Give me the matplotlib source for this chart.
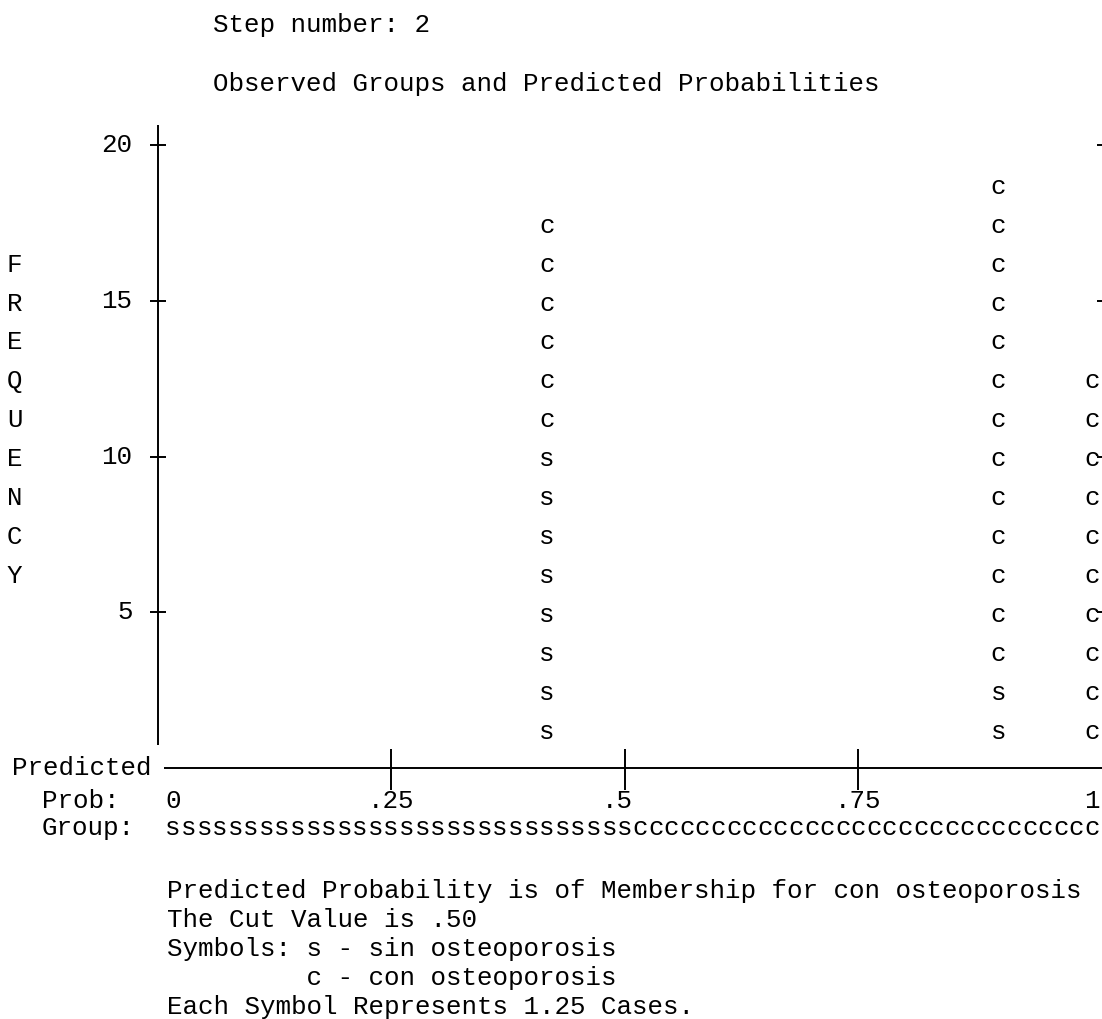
import matplotlib
matplotlib.use("Agg")
import matplotlib.pyplot as plt

plt.rcParams['font.family'] = ['Liberation Mono', 'DejaVu Sans Mono']

# data
n_cols = 60                      # text columns across the probability axis
case_per_symbol = 1.25
col_prob = [25 / 60, 54 / 60, 60 / 60]   # predicted probability of each stack
s_rows = [8, 2, 0]               # symbols "s" (sin osteoporosis), from the bottom
c_rows = [6, 13, 10]             # symbols "c" (con osteoporosis), on top
y_ticks = [5, 10, 15, 20]
x_ticks = [0.25, 0.5, 0.75]
x_labels = ['0', '.25', '.5', '.75', '1']
x_label_cols = [1, 15, 29.5, 45, 60]
group_row = 's' * 30 + 'c' * 30
ylabel = 'FREQUENCY'
notes = ['Predicted Probability is of Membership for con osteoporosis',
         'The Cut Value is .50',
         'Symbols: s - sin osteoporosis',
         '         c - con osteoporosis',
         'Each Symbol Represents 1.25 Cases.']

W, H = 1102, 1019
x0, x1 = 157.5, 1092.0           # pixel of prob 0 and 1
y0, ytop = 768.0, 125.0
px_per_freq = 31.13
fs = 18.6

fig = plt.figure(figsize=(W / 100, H / 100), dpi=100)
ax = fig.add_axes([x0 / W, (H - y0) / H, (W - x0) / W, (y0 - ytop) / H])
ax.set_xlim(0, (W - x0) / (x1 - x0))
ax.set_ylim(0, (y0 - ytop) / px_per_freq)
ax.axis('off')

dx = 1 / (x1 - x0)               # one pixel in data units
dy = 1 / px_per_freq
lk = dict(color='black', lw=1.4, solid_capstyle='butt', clip_on=False)

# axes lines and ticks
ax.plot([0, 0], [23 * dy, ax.get_ylim()[1]], **lk)
ax.plot([6 * dx, ax.get_xlim()[1]], [0, 0], **lk)
for v in y_ticks:
    ax.plot([-8 * dx, 8 * dx], [v, v], **lk)
    ax.plot([ax.get_xlim()[1] - 5 * dx, ax.get_xlim()[1]], [v, v], **lk)
    ax.text(-25 * dx, v, str(v), ha='right', va='center', fontsize=fs)
for v in x_ticks:
    ax.plot([v, v], [-22 * dy, 19 * dy], **lk)

# stacked symbols
for p, ns, nc in zip(col_prob, s_rows, c_rows):
    syms = 's' * ns + 'c' * nc
    for k, ch in enumerate(syms, start=1):
        ax.text(p, k * case_per_symbol, ch, ha='center', va='center_baseline',
                fontsize=fs)

# vertical FREQUENCY label
for k, ch in enumerate(ylabel):
    ax.text(-143 * dx, (13 - k) * case_per_symbol, ch, ha='center',
            va='center_baseline', fontsize=fs)

# x axis text
ax.text(-146 * dx, 0, 'Predicted', ha='left', va='center', fontsize=fs)
ax.text(-116 * dx, -33 * dy, 'Prob:', ha='left', va='center', fontsize=fs)
for lab, c in zip(x_labels, x_label_cols):
    ax.text(c / n_cols, -33 * dy, lab, ha='center', va='center', fontsize=fs)
ax.text(-116 * dx, -60 * dy, 'Group:', ha='left', va='center', fontsize=fs)
for i, ch in enumerate(group_row, start=1):
    ax.text(i / n_cols, -60 * dy, ch, ha='center', va='center', fontsize=fs)

# header and notes
fig.text(213 / W, 1 - 25 / H, 'Step number: 2', ha='left', va='center', fontsize=fs)
fig.text(213 / W, 1 - 84 / H, 'Observed Groups and Predicted Probabilities',
         ha='left', va='center', fontsize=fs)
for i, line in enumerate(notes):
    fig.text(167 / W, 1 - (891 + 29.0 * i) / H, line, ha='left', va='center',
             fontsize=fs)

fig.savefig('out.png', dpi=100, facecolor='white')
